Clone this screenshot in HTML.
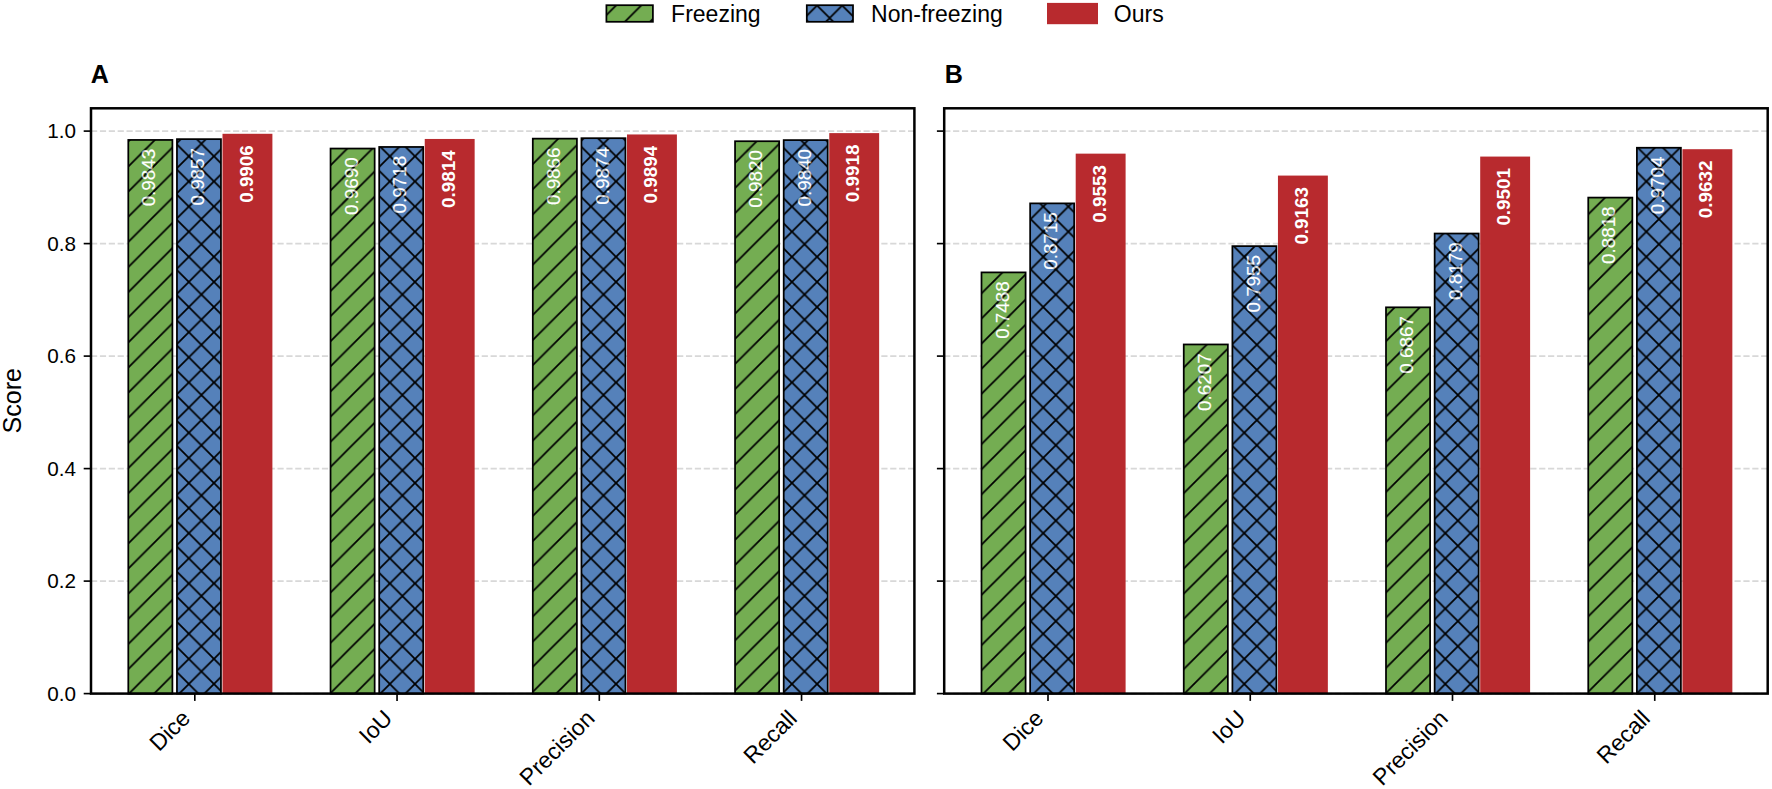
<!DOCTYPE html>
<html lang="en"><head><meta charset="utf-8"><title>Figure</title>
<style>html,body{margin:0;padding:0;background:#fff}svg{display:block}</style></head>
<body>
<svg width="1772" height="789" viewBox="0 0 1772 789" font-family='"Liberation Sans", Arial, sans-serif'>
<defs>
<pattern id="hs" patternUnits="userSpaceOnUse" width="25.13" height="25.13" patternTransform="translate(12.90 5.50)"><path d="M-2 27.13 L27.13 -2 M-2 2 L2 -2 M23.13 27.13 L27.13 23.13" stroke="#000" stroke-width="1.75" fill="none"/></pattern>
<pattern id="hx" patternUnits="userSpaceOnUse" width="25.13" height="25.13" patternTransform="translate(12.90 5.50)"><path d="M-2 27.13 L27.13 -2 M-2 2 L2 -2 M23.13 27.13 L27.13 23.13 M-2 -2 L27.13 27.13 M23.13 -2 L27.13 2 M-2 23.13 L2 27.13" stroke="#000" stroke-width="1.75" fill="none"/></pattern>
</defs>
<rect width="1772" height="789" fill="#fff"/>
<rect x="606.4" y="5.2" width="46.50" height="16.60" fill="#74ad52"/>
<rect x="606.4" y="5.2" width="46.50" height="16.60" fill="url(#hs)" stroke="#000" stroke-width="1.75"/>
<rect x="806.8" y="5.2" width="46.20" height="16.60" fill="#5581ba"/>
<rect x="806.8" y="5.2" width="46.20" height="16.60" fill="url(#hx)" stroke="#000" stroke-width="1.75"/>
<rect x="1047" y="2.9" width="51" height="21.3" fill="#b82a2e"/>
<g font-size="23.0" fill="#000">
<text x="671.1" y="21.7">Freezing</text>
<text x="871.1" y="21.7">Non-freezing</text>
<text x="1113.8" y="21.7">Ours</text>
</g>
<text transform="translate(21.4 400.8) rotate(-90)" text-anchor="middle" font-size="25.1" fill="#000">Score</text>
<g font-size="20.7" fill="#000" text-anchor="end">
<text x="75.9" y="700.60">0.0</text>
<text x="75.9" y="588.10">0.2</text>
<text x="75.9" y="475.60">0.4</text>
<text x="75.9" y="363.10">0.6</text>
<text x="75.9" y="250.60">0.8</text>
<text x="75.9" y="138.10">1.0</text>
</g>
<g stroke="#d8d8d8" stroke-width="1.65" stroke-dasharray="6.2 2.68">
<path d="M91.0 693.60 H914.4"/>
<path d="M91.0 581.10 H914.4"/>
<path d="M91.0 468.60 H914.4"/>
<path d="M91.0 356.10 H914.4"/>
<path d="M91.0 243.60 H914.4"/>
<path d="M91.0 131.10 H914.4"/>
</g>
<rect x="128.30" y="139.93" width="44.10" height="553.67" fill="#74ad52"/>
<rect x="176.95" y="139.14" width="44.00" height="554.46" fill="#5581ba"/>
<rect x="222.50" y="133.79" width="49.90" height="559.81" fill="#b82a2e"/>
<rect x="330.55" y="148.54" width="44.10" height="545.06" fill="#74ad52"/>
<rect x="379.20" y="146.96" width="44.00" height="546.64" fill="#5581ba"/>
<rect x="424.75" y="138.96" width="49.90" height="554.64" fill="#b82a2e"/>
<rect x="532.80" y="138.64" width="44.10" height="554.96" fill="#74ad52"/>
<rect x="581.45" y="138.19" width="44.00" height="555.41" fill="#5581ba"/>
<rect x="627.00" y="134.46" width="49.90" height="559.14" fill="#b82a2e"/>
<rect x="735.05" y="141.23" width="44.10" height="552.38" fill="#74ad52"/>
<rect x="783.70" y="140.10" width="44.00" height="553.50" fill="#5581ba"/>
<rect x="829.25" y="133.11" width="49.90" height="560.49" fill="#b82a2e"/>
<rect x="128.30" y="139.93" width="44.10" height="553.67" fill="url(#hs)" stroke="#000" stroke-width="1.75"/>
<rect x="176.95" y="139.14" width="44.00" height="554.46" fill="url(#hx)" stroke="#000" stroke-width="1.75"/>
<rect x="330.55" y="148.54" width="44.10" height="545.06" fill="url(#hs)" stroke="#000" stroke-width="1.75"/>
<rect x="379.20" y="146.96" width="44.00" height="546.64" fill="url(#hx)" stroke="#000" stroke-width="1.75"/>
<rect x="532.80" y="138.64" width="44.10" height="554.96" fill="url(#hs)" stroke="#000" stroke-width="1.75"/>
<rect x="581.45" y="138.19" width="44.00" height="555.41" fill="url(#hx)" stroke="#000" stroke-width="1.75"/>
<rect x="735.05" y="141.23" width="44.10" height="552.38" fill="url(#hs)" stroke="#000" stroke-width="1.75"/>
<rect x="783.70" y="140.10" width="44.00" height="553.50" fill="url(#hx)" stroke="#000" stroke-width="1.75"/>
<g font-size="18.85" fill="#fff" stroke="#fff" stroke-width="0.15">
<text transform="translate(155.30 148.73) rotate(-90)" text-anchor="end">0.9843</text>
<text transform="translate(204.20 147.94) rotate(-90)" text-anchor="end">0.9857</text>
<text transform="translate(252.50 145.19) rotate(-90)" text-anchor="end" font-weight="bold" stroke="none">0.9906</text>
<text transform="translate(357.55 157.34) rotate(-90)" text-anchor="end">0.9690</text>
<text transform="translate(406.45 155.76) rotate(-90)" text-anchor="end">0.9718</text>
<text transform="translate(454.75 150.36) rotate(-90)" text-anchor="end" font-weight="bold" stroke="none">0.9814</text>
<text transform="translate(559.80 147.44) rotate(-90)" text-anchor="end">0.9866</text>
<text transform="translate(608.70 146.99) rotate(-90)" text-anchor="end">0.9874</text>
<text transform="translate(657.00 145.86) rotate(-90)" text-anchor="end" font-weight="bold" stroke="none">0.9894</text>
<text transform="translate(762.05 150.03) rotate(-90)" text-anchor="end">0.9820</text>
<text transform="translate(810.95 148.90) rotate(-90)" text-anchor="end">0.9840</text>
<text transform="translate(859.25 144.51) rotate(-90)" text-anchor="end" font-weight="bold" stroke="none">0.9918</text>
</g>
<g opacity="0.32">
<rect x="139.80" y="147.73" width="17.5" height="59" fill="url(#hs)"/>
<rect x="188.70" y="146.94" width="17.5" height="59" fill="url(#hx)"/>
<rect x="342.05" y="156.34" width="17.5" height="59" fill="url(#hs)"/>
<rect x="390.95" y="154.76" width="17.5" height="59" fill="url(#hx)"/>
<rect x="544.30" y="146.44" width="17.5" height="59" fill="url(#hs)"/>
<rect x="593.20" y="145.99" width="17.5" height="59" fill="url(#hx)"/>
<rect x="746.55" y="149.03" width="17.5" height="59" fill="url(#hs)"/>
<rect x="795.45" y="147.90" width="17.5" height="59" fill="url(#hx)"/>
</g>
<rect x="91.0" y="108.3" width="823.40" height="585.30" fill="none" stroke="#000" stroke-width="2.5"/>
<g stroke="#000" stroke-width="1.65">
<path d="M83.70 693.60 H91.0"/>
<path d="M83.70 581.10 H91.0"/>
<path d="M83.70 468.60 H91.0"/>
<path d="M83.70 356.10 H91.0"/>
<path d="M83.70 243.60 H91.0"/>
<path d="M83.70 131.10 H91.0"/>
<path d="M194.80 693.6 V700.90"/>
<path d="M397.05 693.6 V700.90"/>
<path d="M599.30 693.6 V700.90"/>
<path d="M801.55 693.6 V700.90"/>
</g>
<g font-size="23.0" fill="#000" text-anchor="end">
<text transform="translate(191.50 719.8) rotate(-45)">Dice</text>
<text transform="translate(393.75 719.8) rotate(-45)">IoU</text>
<text transform="translate(596.00 719.8) rotate(-45)">Precision</text>
<text transform="translate(798.25 719.8) rotate(-45)">Recall</text>
</g>
<text x="90.80" y="83.1" font-size="25.1" font-weight="bold" fill="#000">A</text>
<g stroke="#d8d8d8" stroke-width="1.65" stroke-dasharray="6.2 2.68">
<path d="M944.2 693.60 H1767.7"/>
<path d="M944.2 581.10 H1767.7"/>
<path d="M944.2 468.60 H1767.7"/>
<path d="M944.2 356.10 H1767.7"/>
<path d="M944.2 243.60 H1767.7"/>
<path d="M944.2 131.10 H1767.7"/>
</g>
<rect x="981.50" y="272.40" width="44.10" height="421.20" fill="#74ad52"/>
<rect x="1030.15" y="203.38" width="44.00" height="490.22" fill="#5581ba"/>
<rect x="1075.70" y="153.64" width="49.90" height="539.96" fill="#b82a2e"/>
<rect x="1183.75" y="344.46" width="44.10" height="349.14" fill="#74ad52"/>
<rect x="1232.40" y="246.13" width="44.00" height="447.47" fill="#5581ba"/>
<rect x="1277.95" y="175.58" width="49.90" height="518.02" fill="#b82a2e"/>
<rect x="1386.00" y="307.33" width="44.10" height="386.27" fill="#74ad52"/>
<rect x="1434.65" y="233.53" width="44.00" height="460.07" fill="#5581ba"/>
<rect x="1480.20" y="156.57" width="49.90" height="537.03" fill="#b82a2e"/>
<rect x="1588.25" y="197.59" width="44.10" height="496.01" fill="#74ad52"/>
<rect x="1636.90" y="147.75" width="44.00" height="545.85" fill="#5581ba"/>
<rect x="1682.45" y="149.20" width="49.90" height="544.40" fill="#b82a2e"/>
<rect x="981.50" y="272.40" width="44.10" height="421.20" fill="url(#hs)" stroke="#000" stroke-width="1.75"/>
<rect x="1030.15" y="203.38" width="44.00" height="490.22" fill="url(#hx)" stroke="#000" stroke-width="1.75"/>
<rect x="1183.75" y="344.46" width="44.10" height="349.14" fill="url(#hs)" stroke="#000" stroke-width="1.75"/>
<rect x="1232.40" y="246.13" width="44.00" height="447.47" fill="url(#hx)" stroke="#000" stroke-width="1.75"/>
<rect x="1386.00" y="307.33" width="44.10" height="386.27" fill="url(#hs)" stroke="#000" stroke-width="1.75"/>
<rect x="1434.65" y="233.53" width="44.00" height="460.07" fill="url(#hx)" stroke="#000" stroke-width="1.75"/>
<rect x="1588.25" y="197.59" width="44.10" height="496.01" fill="url(#hs)" stroke="#000" stroke-width="1.75"/>
<rect x="1636.90" y="147.75" width="44.00" height="545.85" fill="url(#hx)" stroke="#000" stroke-width="1.75"/>
<g font-size="18.85" fill="#fff" stroke="#fff" stroke-width="0.15">
<text transform="translate(1008.50 281.20) rotate(-90)" text-anchor="end">0.7488</text>
<text transform="translate(1057.40 212.18) rotate(-90)" text-anchor="end">0.8715</text>
<text transform="translate(1105.70 165.04) rotate(-90)" text-anchor="end" font-weight="bold" stroke="none">0.9553</text>
<text transform="translate(1210.75 353.26) rotate(-90)" text-anchor="end">0.6207</text>
<text transform="translate(1259.65 254.93) rotate(-90)" text-anchor="end">0.7955</text>
<text transform="translate(1307.95 186.98) rotate(-90)" text-anchor="end" font-weight="bold" stroke="none">0.9163</text>
<text transform="translate(1413.00 316.13) rotate(-90)" text-anchor="end">0.6867</text>
<text transform="translate(1461.90 242.33) rotate(-90)" text-anchor="end">0.8179</text>
<text transform="translate(1510.20 167.97) rotate(-90)" text-anchor="end" font-weight="bold" stroke="none">0.9501</text>
<text transform="translate(1615.25 206.39) rotate(-90)" text-anchor="end">0.8818</text>
<text transform="translate(1664.15 156.55) rotate(-90)" text-anchor="end">0.9704</text>
<text transform="translate(1712.45 160.60) rotate(-90)" text-anchor="end" font-weight="bold" stroke="none">0.9632</text>
</g>
<g opacity="0.32">
<rect x="993.00" y="280.20" width="17.5" height="59" fill="url(#hs)"/>
<rect x="1041.90" y="211.18" width="17.5" height="59" fill="url(#hx)"/>
<rect x="1195.25" y="352.26" width="17.5" height="59" fill="url(#hs)"/>
<rect x="1244.15" y="253.93" width="17.5" height="59" fill="url(#hx)"/>
<rect x="1397.50" y="315.13" width="17.5" height="59" fill="url(#hs)"/>
<rect x="1446.40" y="241.33" width="17.5" height="59" fill="url(#hx)"/>
<rect x="1599.75" y="205.39" width="17.5" height="59" fill="url(#hs)"/>
<rect x="1648.65" y="155.55" width="17.5" height="59" fill="url(#hx)"/>
</g>
<rect x="944.2" y="108.3" width="823.50" height="585.30" fill="none" stroke="#000" stroke-width="2.5"/>
<g stroke="#000" stroke-width="1.65">
<path d="M936.90 693.60 H944.2"/>
<path d="M936.90 581.10 H944.2"/>
<path d="M936.90 468.60 H944.2"/>
<path d="M936.90 356.10 H944.2"/>
<path d="M936.90 243.60 H944.2"/>
<path d="M936.90 131.10 H944.2"/>
<path d="M1048.00 693.6 V700.90"/>
<path d="M1250.25 693.6 V700.90"/>
<path d="M1452.50 693.6 V700.90"/>
<path d="M1654.75 693.6 V700.90"/>
</g>
<g font-size="23.0" fill="#000" text-anchor="end">
<text transform="translate(1044.70 719.8) rotate(-45)">Dice</text>
<text transform="translate(1246.95 719.8) rotate(-45)">IoU</text>
<text transform="translate(1449.20 719.8) rotate(-45)">Precision</text>
<text transform="translate(1651.45 719.8) rotate(-45)">Recall</text>
</g>
<text x="944.80" y="83.1" font-size="25.1" font-weight="bold" fill="#000">B</text>
</svg>
</body></html>
